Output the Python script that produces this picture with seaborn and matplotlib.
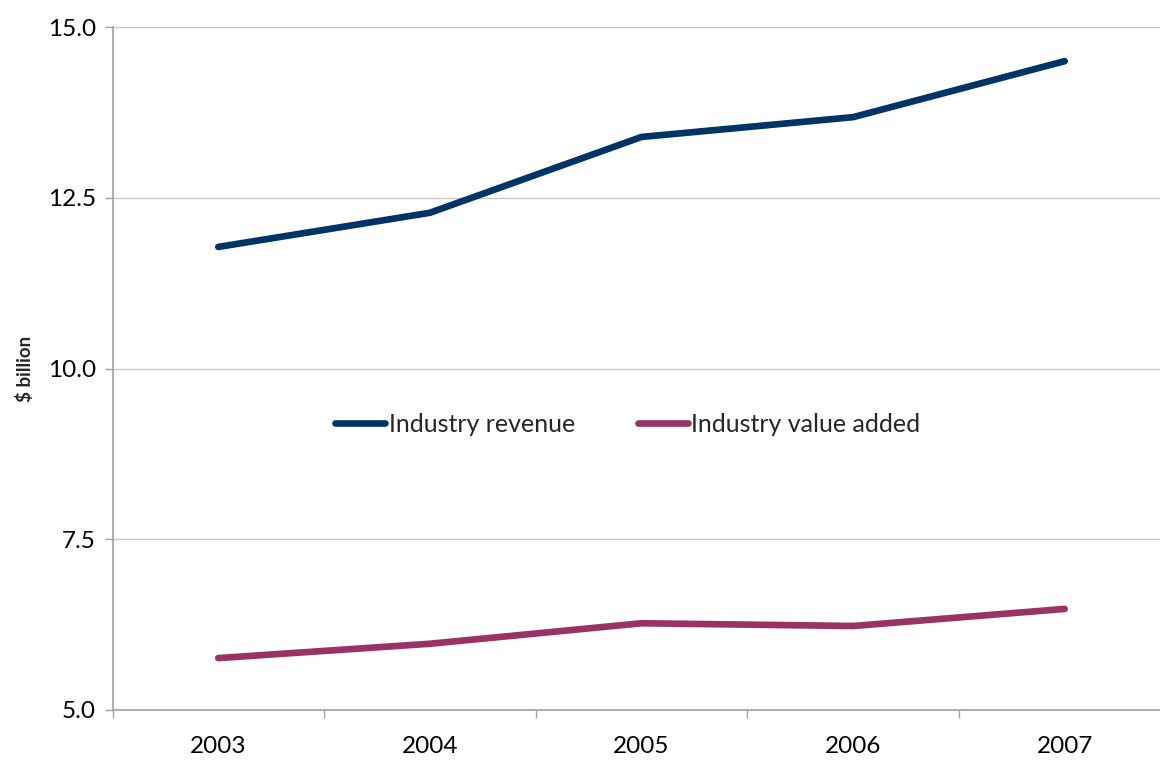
import numpy as np
import pandas as pd
import matplotlib
matplotlib.use("Agg")
import matplotlib.pyplot as plt
import seaborn as sns

years = [2003, 2004, 2005, 2006, 2007]
revenue = [11.78, 12.28, 13.39, 13.68, 14.50]
value_added = [5.76, 5.97, 6.27, 6.23, 6.48]
series_names = ["Industry revenue", "Industry value added"]
colors = ["#003366", "#993366"]

df = pd.DataFrame({
    "year": years * 2,
    "value": revenue + value_added,
    "series": [series_names[0]] * len(years) + [series_names[1]] * len(years),
})

sns.set_theme(style="white")
plt.rcParams["font.family"] = ["Lato", "DejaVu Sans"]

W, H = 1160, 762
fig = plt.figure(figsize=(W / 100, H / 100), dpi=100)
left, right_px = 112.5, 112.5 + 5 * 211.6
top_px, bottom_px = 27, 710
ax = fig.add_axes([left / W, (H - bottom_px) / H, (right_px - left) / W, (bottom_px - top_px) / H])

sns.lineplot(data=df, x="year", y="value", hue="series", palette=colors,
             linewidth=4.8, ax=ax, legend=True)
for ln in ax.get_lines():
    ln.set_solid_capstyle("round")
    ln.set_solid_joinstyle("round")

ax.set_xlim(years[0] - 0.5, years[-1] + 0.5)
ax.set_ylim(5.0, 15.0)
ax.set_yticks([5.0, 7.5, 10.0, 12.5, 15.0])
ax.set_yticklabels(["5.0", "7.5", "10.0", "12.5", "15.0"])
ax.set_xticks(years)
ax.set_xticklabels([str(y) for y in years])
ax.set_xticks([y + 0.5 for y in [years[0] - 1] + years[:-1]], minor=True)

ax.yaxis.grid(True, color="#c8c8c8", linewidth=1)
ax.set_axisbelow(True)
for s in ["top", "right"]:
    ax.spines[s].set_visible(False)
for s in ["left", "bottom"]:
    ax.spines[s].set_color("#a0a0a0")
    ax.spines[s].set_linewidth(1.2)

ax.tick_params(axis="y", which="major", left=True, length=6, width=1, color="#a0a0a0",
               labelsize=17.5, pad=6, labelcolor="black")
ax.tick_params(axis="x", which="major", bottom=False, length=0, labelsize=17.5, pad=19,
               labelcolor="black")
ax.tick_params(axis="x", which="minor", bottom=True, length=6, width=1, color="#a0a0a0")

ax.set_xlabel("")
ax.set_ylabel("$ billion", fontsize=13.5, fontweight="bold", labelpad=10)

handles, labels = ax.get_legend_handles_labels()
leg = ax.legend(handles, labels, loc="center", bbox_to_anchor=(0.487, 1 - (424 - 27) / 683),
                ncol=2, frameon=False, fontsize=18, handlelength=2.0, handletextpad=0.15,
                columnspacing=2.5)
for h in leg.get_lines():
    h.set_linewidth(4.8)
    h.set_solid_capstyle("round")

fig.savefig("out.png", dpi=100)
